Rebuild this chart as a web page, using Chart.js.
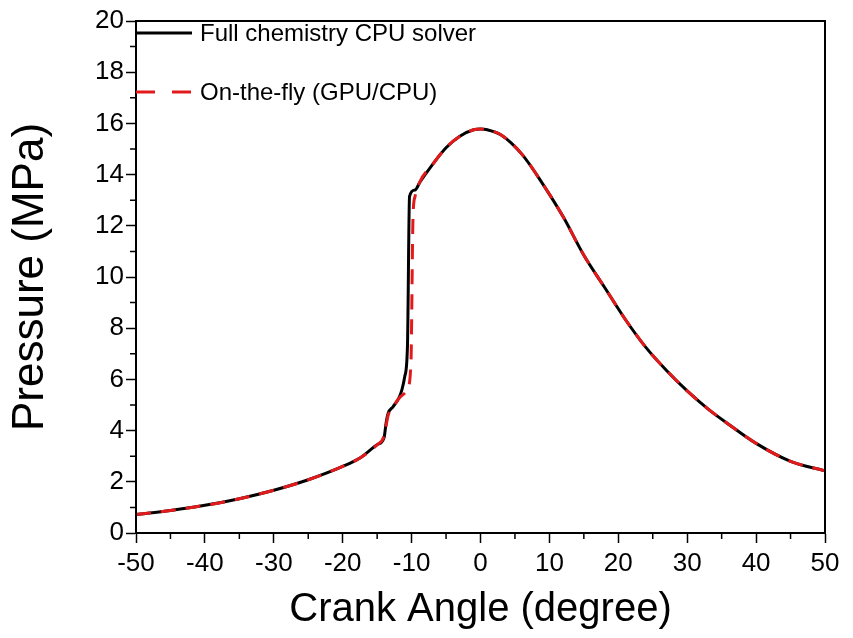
<!DOCTYPE html>
<html lang="en">
<head>
    <meta charset="UTF-8">
    <script src="https://cdn.jsdelivr.net/npm/chart.js@4.4.1/dist/chart.umd.min.js"></script>
    <title>Pressure vs crank angle</title>
    <style>
        body { margin: 0; background: #fff; }
        #wrap { width: 853px; height: 638px; }
    </style>
</head>
<body>
    <div id="wrap"><canvas id="myChart" width="853" height="638"></canvas></div>

    <script>
        // crank angle (deg) and pressure (MPa)
        const angleFull = [-50, -45, -40, -35, -30, -25, -20, -17.5, -15, -14, -13.7, -13.4, -12.7, -11.8, -11.4, -11.0, -10.6, -10.3, -9.5, -8.8, -7, -5, -3, -1, 0, 1, 3, 6, 9, 12, 15, 18, 21, 24, 27, 30, 33, 36, 40, 45, 50]
        const pressFull = [0.72, 0.88, 1.08, 1.34, 1.67, 2.08, 2.6, 2.93, 3.45, 3.72, 4.3, 4.68, 4.93, 5.3, 5.6, 6.1, 7.3, 13.15, 13.4, 13.7, 14.38, 15.05, 15.5, 15.75, 15.78, 15.75, 15.55, 14.8, 13.65, 12.35, 10.85, 9.6, 8.35, 7.25, 6.35, 5.55, 4.85, 4.25, 3.5, 2.8, 2.43]

        const angleFly = [-50, -45, -40, -35, -30, -25, -20, -17.5, -15, -14, -13.4, -12.7, -11.5, -10.7, -10.1, -9.8, -9.5, -8.8, -7, -5, -3, -1, 0, 1, 3, 6, 9, 12, 15, 18, 21, 24, 27, 30, 33, 36, 40, 45, 50]
        const pressFly = [0.72, 0.88, 1.08, 1.34, 1.67, 2.08, 2.6, 2.93, 3.45, 3.78, 4.6, 4.92, 5.35, 5.55, 6.6, 12.3, 13.15, 13.72, 14.38, 15.05, 15.5, 15.75, 15.78, 15.75, 15.55, 14.8, 13.65, 12.35, 10.85, 9.6, 8.35, 7.25, 6.35, 5.55, 4.85, 4.25, 3.5, 2.8, 2.43]

        const xTicks = [-50, -40, -30, -20, -10, 0, 10, 20, 30, 40, 50]
        const yTicks = [0, 2, 4, 6, 8, 10, 12, 14, 16, 18, 20]
        const labelFull = 'Full chemistry CPU solver'
        const labelFly = 'On-the-fly (GPU/CPU)'

        function toPoints(xs, ys) {
            return xs.map((x, i) => ({ x: x, y: ys[i] }))
        }

        const FONT = 'Arial, "Liberation Sans", sans-serif'

        // box round the plot, minor ticks, legend inside the plot
        const extras = {
            id: 'extras',
            afterDraw(chart) {
                const ctx = chart.ctx
                const a = chart.chartArea
                const xs = chart.scales.x, ys = chart.scales.y
                ctx.save()
                ctx.strokeStyle = '#000'
                ctx.lineWidth = 2
                ctx.strokeRect(a.left, a.top, a.right - a.left, a.bottom - a.top)

                ctx.lineWidth = 1.5
                ctx.beginPath()
                for (let v = -45; v < 50; v += 10) {
                    const px = xs.getPixelForValue(v)
                    ctx.moveTo(px, a.bottom); ctx.lineTo(px, a.bottom + 6)
                }
                for (let v = 1; v < 20; v += 2) {
                    const py = ys.getPixelForValue(v)
                    ctx.moveTo(a.left, py); ctx.lineTo(a.left - 6, py)
                }
                ctx.stroke()

                // legend
                ctx.font = '24px ' + FONT
                ctx.fillStyle = '#000'
                ctx.textBaseline = 'middle'
                ctx.lineWidth = 3
                ctx.strokeStyle = '#000'
                ctx.beginPath()
                ctx.moveTo(a.left + 1, 33); ctx.lineTo(a.left + 56, 33)
                ctx.stroke()
                ctx.fillText(labelFull, a.left + 64, 34)

                ctx.strokeStyle = '#e31a1c'
                ctx.setLineDash([19, 17])
                ctx.beginPath()
                ctx.moveTo(a.left, 92); ctx.lineTo(a.left + 56, 92)
                ctx.stroke()
                ctx.setLineDash([])
                ctx.fillText(labelFly, a.left + 64, 93)
                ctx.restore()
            }
        }

        const ctx = document.getElementById('myChart').getContext('2d')
        const myChart = new Chart(ctx, {
            type: 'line',
            data: {
                datasets: [{
                    label: labelFull,
                    data: toPoints(angleFull, pressFull),
                    borderColor: '#000',
                    borderWidth: 3,
                    pointRadius: 0,
                    cubicInterpolationMode: 'monotone',
                    order: 2
                }, {
                    label: labelFly,
                    data: toPoints(angleFly, pressFly),
                    borderColor: '#e31a1c',
                    borderWidth: 3,
                    borderDash: [15, 10],
                    pointRadius: 0,
                    cubicInterpolationMode: 'monotone',
                    order: 1
                }]
            },
            options: {
                responsive: false,
                animation: false,
                layout: { padding: { top: 21, right: 28, left: 0, bottom: 0 } },
                plugins: {
                    legend: { display: false },
                    tooltip: { enabled: false }
                },
                scales: {
                    x: {
                        type: 'linear',
                        min: -50, max: 50,
                        afterBuildTicks: s => { s.ticks = xTicks.map(v => ({ value: v })) },
                        afterFit: s => { s.height = 105 },
                        grid: { drawOnChartArea: false, tickLength: 10, tickWidth: 1.5, tickColor: '#000' },
                        border: { display: true, color: '#000', width: 2 },
                        ticks: { color: '#000', font: { family: FONT, size: 26 }, padding: 5 },
                        title: { display: true, text: 'Crank Angle (degree)', color: '#000', font: { family: FONT, size: 40 }, padding: { top: 4 } }
                    },
                    y: {
                        min: 0, max: 20,
                        afterBuildTicks: s => { s.ticks = yTicks.map(v => ({ value: v })) },
                        afterFit: s => { s.width = 136 },
                        grid: { drawOnChartArea: false, tickLength: 10, tickWidth: 1.5, tickColor: '#000' },
                        border: { display: true, color: '#000', width: 2 },
                        ticks: { color: '#000', font: { family: FONT, size: 26 }, padding: 2 },
                        title: { display: true, text: 'Pressure (MPa)', color: '#000', font: { family: FONT, size: 44 }, padding: { bottom: 6 } }
                    }
                }
            },
            plugins: [extras]
        })
    </script>
</body>
</html>
